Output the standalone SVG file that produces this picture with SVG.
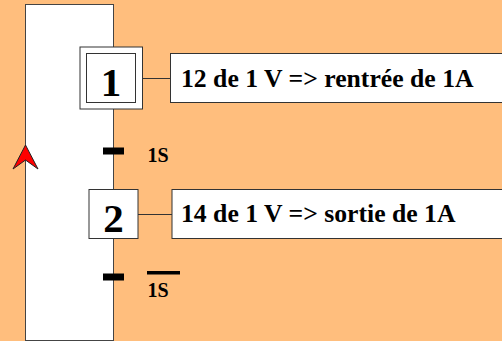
<svg xmlns="http://www.w3.org/2000/svg" width="502" height="341" viewBox="0 0 502 341">
<style>
.b{fill:#fff;stroke:#333;stroke-width:1}
.l{fill:none;stroke:#333;stroke-width:1}
.t{font-family:"Liberation Serif","Times New Roman",serif;font-weight:bold;fill:#000}
.n{font-size:41px;text-anchor:middle}
.c{font-size:25.700px}
.s{font-size:20px}
.bar{fill:#000}
</style>
<rect width="502" height="341" fill="#ffbe7d"/>
<g id="connectors">
<rect x="25.500" y="4.500" width="88" height="336" fill="#fff" stroke="#444"/>
<line class="l" x1="142" y1="78.500" x2="170" y2="78.500"/>
<line class="l" x1="138" y1="214.500" x2="172" y2="214.500"/>
<rect class="bar" x="103" y="147.500" width="21" height="7"/>
<rect class="bar" x="103" y="273.500" width="21" height="7"/>
<path id="arrow" d="M25.500 145 L38 169 L25.500 160 L13 169 Z" fill="#f00" stroke="#222" stroke-width="1"/>
</g>
<g id="step1">
<rect class="b" x="80" y="47" width="62.500" height="62"/>
<rect class="b" x="86.500" y="53.500" width="49" height="49"/>
<text class="t n" x="111" y="96">1</text>
</g>
<g id="step2">
<rect class="b" x="89" y="189.500" width="49" height="49"/>
<text class="t n" x="113.500" y="232">2</text>
</g>
<g id="action1">
<rect class="b" x="170.500" y="53.500" width="340" height="49"/>
<text class="t c" x="181" y="87">12 de 1 V =&gt; rentrée de 1A</text>
</g>
<g id="action2">
<rect class="b" x="172" y="189.500" width="340" height="49"/>
<text class="t c" x="181" y="222">14 de 1 V =&gt; sortie de 1A</text>
</g>
<g id="cond1">
<text class="t s" x="147.500" y="162">1S</text>
</g>
<g id="cond2">
<rect class="bar" x="147" y="271" width="33" height="3.500"/>
<text class="t s" x="147.500" y="297">1S</text>
</g>
</svg>
